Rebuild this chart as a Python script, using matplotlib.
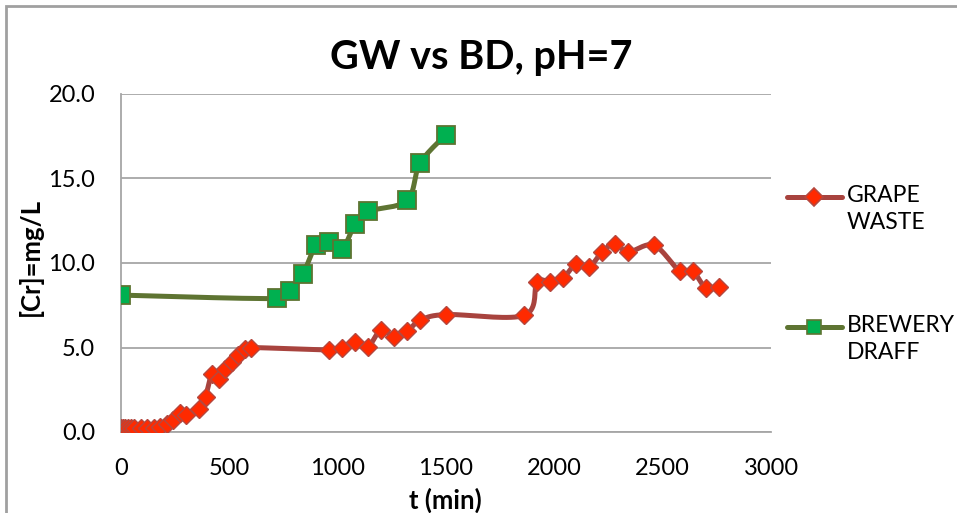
import numpy as np
import matplotlib.pyplot as plt
from matplotlib.lines import Line2D
from matplotlib.patches import Rectangle

plt.rcParams['font.family'] = ['Lato', 'DejaVu Sans']

# grape waste
gw_t = [0, 10, 20, 30, 45, 60, 90, 120, 150, 180, 210, 240, 270, 300, 360, 390,
        420, 450, 480, 510, 540, 570, 600,
        960, 1020, 1080, 1140, 1200, 1260, 1320, 1380, 1500,
        1860, 1920, 1980, 2040, 2100, 2160, 2220, 2280, 2340, 2460,
        2580, 2640, 2700, 2760]
gw_cr = [0.25, 0.25, 0.25, 0.25, 0.25, 0.25, 0.25, 0.25, 0.25, 0.3, 0.45, 0.7, 1.1, 1.0, 1.35, 2.1,
         3.45, 3.15, 3.75, 4.15, 4.55, 4.9, 5.0,
         4.85, 4.95, 5.3, 5.05, 6.05, 5.65, 5.95, 6.6, 6.95,
         6.9, 8.85, 8.9, 9.1, 9.95, 9.75, 10.65, 11.15, 10.65, 11.05,
         9.5, 9.5, 8.5, 8.6]

# brewery draff
bd_t = [0, 720, 780, 840, 900, 960, 1020, 1080, 1140, 1320, 1380, 1500]
bd_cr = [8.1, 7.9, 8.35, 9.35, 11.05, 11.25, 10.8, 12.3, 13.05, 13.7, 15.9, 17.6]

X_MAX, Y_MAX = 3000, 20


def smooth(x, y, sx, sy, n=20):
    # excel-like smoothed line: bezier segments, control points from neighbours
    p = np.column_stack([np.asarray(x, float) * sx, np.asarray(y, float) * sy])
    out = [p[0]]
    for i in range(len(p) - 1):
        p0 = p[i - 1] if i > 0 else p[i]
        p1, p2 = p[i], p[i + 1]
        p3 = p[i + 2] if i + 2 < len(p) else p[i + 1]
        c1 = p1 + (p2 - p0) / 6
        c2 = p2 - (p3 - p1) / 6
        s = np.linspace(0, 1, n)[1:, None]
        seg = (1 - s) ** 3 * p1 + 3 * (1 - s) ** 2 * s * c1 + 3 * (1 - s) * s ** 2 * c2 + s ** 3 * p2
        out.extend(seg)
    out = np.array(out)
    return out[:, 0] / sx, out[:, 1] / sy


fig = plt.figure(figsize=(9.57, 5.13), dpi=100)
ax = fig.add_axes([121 / 957, 1 - 432 / 513, 650 / 957, 338 / 513])

# pixel scales so the smoothing follows the drawn shape
sx, sy = 650 / X_MAX, 338 / Y_MAX

red_line, red_face, red_edge = '#A8433E', '#FF2A00', '#B5473E'
grn_line, grn_face, grn_edge = '#5E7432', '#00B050', '#5E7432'

xs, ys = smooth(gw_t, gw_cr, sx, sy)
ax.plot(xs, ys, color=red_line, lw=3.6, solid_capstyle='round', zorder=3)
ax.plot(gw_t, gw_cr, ls='none', marker='D', ms=9.5, mfc=red_face, mec=red_edge, mew=1.0, zorder=4)

xs, ys = smooth(bd_t, bd_cr, sx, sy)
ax.plot(xs, ys, color=grn_line, lw=3.6, solid_capstyle='round', zorder=5)
ax.plot(bd_t, bd_cr, ls='none', marker='s', ms=13, mfc=grn_face, mec=grn_edge, mew=1.3, zorder=6)

ax.set_xlim(0, X_MAX)
ax.set_ylim(0, Y_MAX)
ax.set_xticks(np.arange(0, 3001, 500))
ax.set_yticks(np.arange(0, 20.1, 5))
ax.set_yticklabels([f'{v:.1f}' for v in np.arange(0, 20.1, 5)])
ax.tick_params(length=0, labelsize=17, colors='#000000')
ax.tick_params(axis='y', pad=18.5)
ax.tick_params(axis='x', pad=19)
ax.grid(axis='y', color='#A6A6A6', lw=1.3)
ax.set_axisbelow(True)
for s in ['top', 'right']:
    ax.spines[s].set_visible(False)
for s in ['left', 'bottom']:
    ax.spines[s].set_color('#A6A6A6')
    ax.spines[s].set_linewidth(1.3)

fig.text(481 / 957, 1 - 58 / 513, 'GW vs BD, pH=7', ha='center', va='center',
         fontsize=28.5, fontweight='bold')
fig.text(445 / 957, 1 - 500 / 513, 't (min)', ha='center', va='center',
         fontsize=18.5, fontweight='bold')
fig.text(30 / 957, 1 - 257 / 513, '[Cr]=mg/L', ha='center', va='center',
         rotation=90, fontsize=18.5, fontweight='bold')

# legend, handle aligned with first text line
entries = [('GRAPE\nWASTE', 197, red_line, 'D', 9.5, red_face, red_edge),
           ('BREWERY\nDRAFF', 327, grn_line, 's', 10, grn_face, grn_edge)]
for label, py, lc, mk, ms, fc, ec in entries:
    fy = 1 - py / 513
    fig.add_artist(Line2D([787 / 957, 842 / 957], [fy, fy], color=lc, lw=3.6,
                          solid_capstyle='round'))
    fig.add_artist(Line2D([814 / 957], [fy], ls='none', marker=mk, ms=ms,
                          mfc=fc, mec=ec, mew=1.2))
    fig.text(847 / 957, fy + 12 / 513, label, ha='left', va='top', fontsize=16.5,
             linespacing=1.35)

# chart border
fig.add_artist(Rectangle((6 / 957, -0.1), 1.2, (1 - 6 / 513) + 0.1, fill=False,
                         edgecolor='#A0A0A0', lw=2.0, transform=fig.transFigure))

fig.savefig('out.png', dpi=100)
